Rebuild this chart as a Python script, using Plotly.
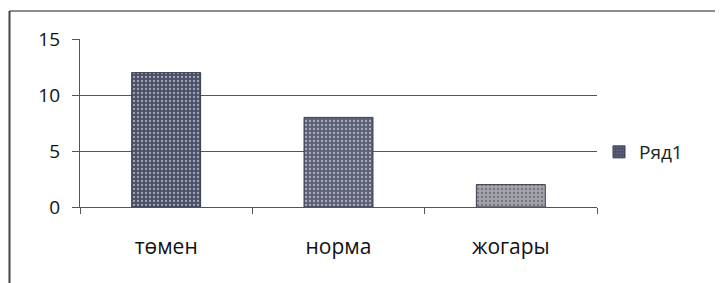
import plotly.graph_objects as go

categories = ["төмен", "норма", "жогары"]
values = [12, 8, 2]
series_name = "Ряд1"
y_ticks = [0, 5, 10, 15]

bar_colors = ["#4b5068", "#5d6079", "#a3a3ad"]

fig = go.Figure()
fig.add_trace(go.Bar(
    x=categories, y=values, name=series_name,
    marker=dict(color=bar_colors, line=dict(color="#3a3d4a", width=1),
                pattern=dict(shape=".", fgcolor="#8a8fa5", size=4, solidity=0.25)),
    width=0.4, showlegend=True,
))

OFF = 8  # page body margin
W, H = 723 - OFF, 283 - OFF
L, R, T, B = 80 - OFF, 597 - OFF, 39 - OFF, 207 - OFF
pw, ph = R - L, B - T

def px(x):
    return (x - OFF - L) / pw

def py(y):
    return (B - (y - OFF)) / ph

fig.update_layout(
    width=W, height=H,
    margin=dict(l=L, r=W - R, t=T, b=H - B),
    paper_bgcolor="white", plot_bgcolor="white",
    font=dict(family="Open Sans, Noto Sans, sans-serif", color="#111", size=16),
    bargap=0.6,
    legend=dict(x=px(599), y=py(152), xanchor="left", yanchor="middle",
                font=dict(size=19, color="#222"), bgcolor="rgba(0,0,0,0)",
                itemwidth=30),
    shapes=[
        dict(type="line", xref="paper", yref="paper",
             x0=px(9.5), x1=px(720), y0=py(11), y1=py(11),
             line=dict(color="#666", width=1.5)),
        dict(type="line", xref="paper", yref="paper",
             x0=px(9.5), x1=px(9.5), y0=py(11), y1=py(283),
             line=dict(color="#444", width=2)),
    ],
)
fig.update_xaxes(
    showline=True, linecolor="#555", linewidth=1.2,
    ticks="outside", ticklen=6, tickcolor="#555", tickson="boundaries",
    ticklabelstandoff=21, showgrid=False,
    tickfont=dict(size=21, color="#111"),
)
fig.update_yaxes(
    range=[0, 15], tickvals=y_ticks, showgrid=True, gridcolor="#555", gridwidth=1,
    showline=True, linecolor="#555", linewidth=1.2,
    ticks="outside", ticklen=7, tickcolor="#555",
    ticklabelstandoff=8, zeroline=False,
    tickfont=dict(size=19, color="#111"),
)

fig.write_html("out.html")
